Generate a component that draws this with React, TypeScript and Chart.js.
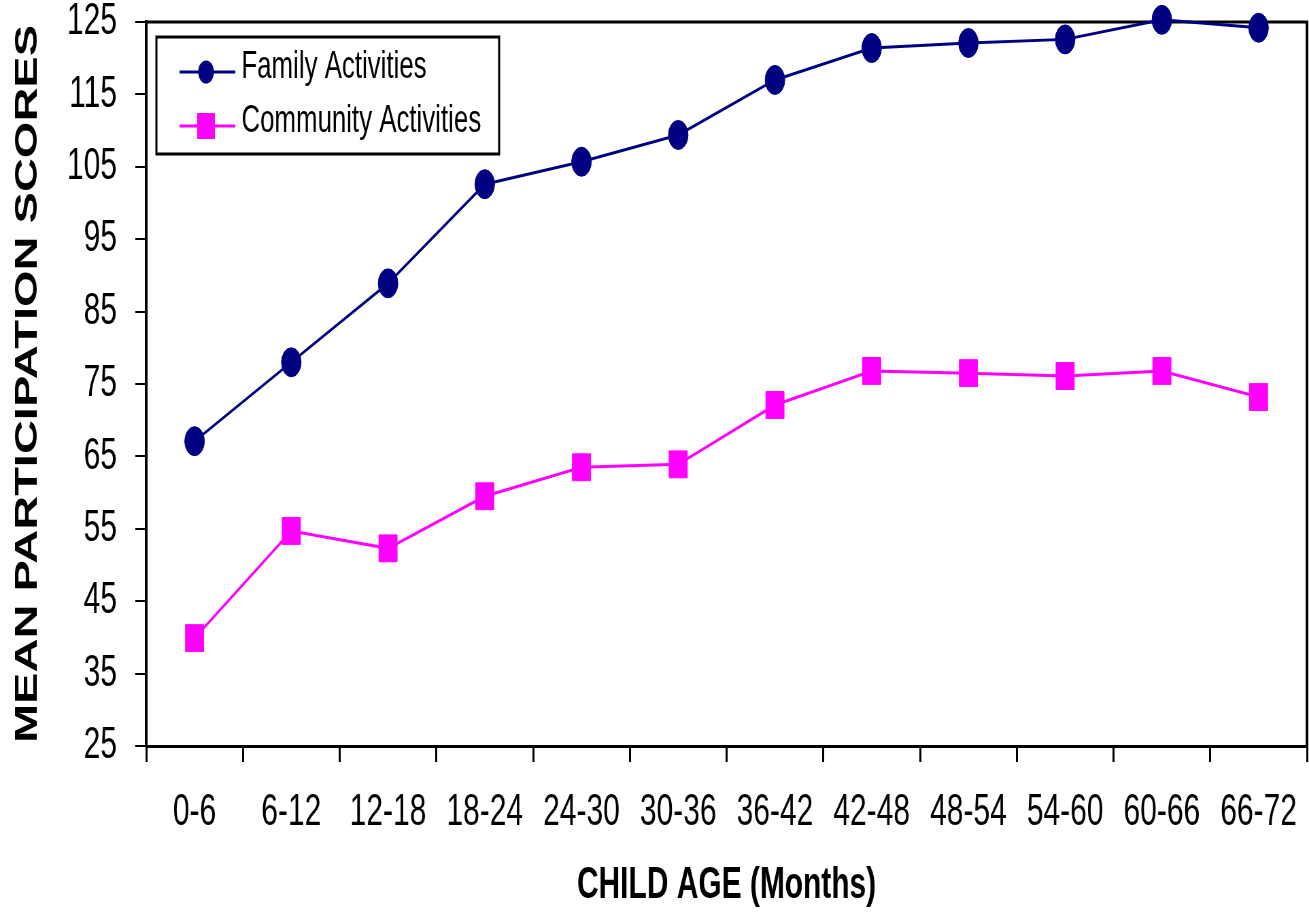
import React, { useEffect, useRef } from 'react';
import { Chart, registerables } from 'chart.js';

Chart.register(...registerables);

// ---- Data ----
const ageGroups = ['0-6', '6-12', '12-18', '18-24', '24-30', '30-36', '36-42', '42-48', '48-54', '54-60', '60-66', '66-72'];
const familyScores = [67.1, 78.0, 88.9, 102.6, 105.7, 109.4, 117.0, 121.4, 122.1, 122.6, 125.3, 124.2];
const communityScores = [39.9, 54.7, 52.3, 59.5, 63.5, 63.9, 72.1, 76.8, 76.5, 76.1, 76.8, 73.2];
const seriesNames = ['Family Activities', 'Community Activities'];
const yAxisMin = 25;
const yAxisMax = 125;
const yAxisStep = 10;
const xAxisTitle = 'CHILD AGE (Months)';
const yAxisTitle = 'MEAN PARTICIPATION SCORES';

// ---- Look ----
const DISPLAY_W = 1309;
const DISPLAY_H = 920;
const SQUEEZE = 0.68; // the reference chart is horizontally compressed
const CANVAS_W = Math.round(DISPLAY_W / SQUEEZE);
const FONT = '"Liberation Sans", Arial, Helvetica, sans-serif';
const NAVY = '#000080';
const MAGENTA = '#FF00FF';

const framePlugin = {
  id: 'plotFrame',
  beforeDatasetsDraw(chart: any) {
    const { ctx, chartArea: a } = chart;
    ctx.save();
    ctx.strokeStyle = '#000';
    ctx.lineWidth = 3;
    ctx.beginPath();
    ctx.moveTo(a.left, a.top);
    ctx.lineTo(a.right + 2, a.top);
    ctx.stroke();
    ctx.lineWidth = 4;
    ctx.beginPath();
    ctx.moveTo(a.right, a.top);
    ctx.lineTo(a.right, a.bottom);
    ctx.stroke();
    ctx.restore();
  },
};

const legendPlugin = {
  id: 'boxLegend',
  afterDraw(chart: any) {
    const { ctx } = chart;
    const bx = 230, by = 37, bw = 504, bh = 117;
    const rows = [72, 126];
    ctx.save();
    ctx.fillStyle = '#fff';
    ctx.fillRect(bx, by, bw, bh);
    ctx.strokeStyle = '#000';
    ctx.lineWidth = 3;
    ctx.strokeRect(bx, by, bw, bh);
    chart.data.datasets.forEach((ds: any, i: number) => {
      const y = rows[i];
      ctx.strokeStyle = ds.borderColor;
      ctx.fillStyle = ds.borderColor;
      ctx.lineWidth = 3;
      ctx.beginPath();
      ctx.moveTo(264, y);
      ctx.lineTo(346, y);
      ctx.stroke();
      if (ds.pointStyle === 'circle') {
        ctx.beginPath();
        ctx.arc(303, y, 11.5, 0, Math.PI * 2);
        ctx.fill();
      } else {
        ctx.fillRect(303 - 13, y - 13, 26, 26);
      }
      ctx.fillStyle = '#000';
      ctx.font = `38px ${FONT}`;
      ctx.textBaseline = 'middle';
      ctx.textAlign = 'left';
      ctx.fillText(ds.label, 355, y - 4);
    });
    ctx.restore();
  },
};

export default function App() {
  const ref = useRef<HTMLCanvasElement | null>(null);

  useEffect(() => {
    const canvas = ref.current;
    if (!canvas) return;
    const chart = new Chart(canvas, {
      type: 'line',
      data: {
        labels: ageGroups,
        datasets: [
          {
            label: seriesNames[0],
            data: familyScores,
            borderColor: NAVY,
            backgroundColor: NAVY,
            borderWidth: 3,
            pointStyle: 'circle',
            pointRadius: 14.5,
            pointBackgroundColor: NAVY,
            pointBorderColor: NAVY,
            pointBorderWidth: 1,
            tension: 0,
            clip: false,
          },
          {
            label: seriesNames[1],
            data: communityScores,
            borderColor: MAGENTA,
            backgroundColor: MAGENTA,
            borderWidth: 3,
            pointStyle: 'rect',
            pointRadius: 19,
            pointBackgroundColor: MAGENTA,
            pointBorderColor: MAGENTA,
            pointBorderWidth: 1,
            tension: 0,
            clip: false,
          },
        ],
      } as any,
      options: {
        responsive: false,
        animation: false,
        devicePixelRatio: 1,
        events: [],
        layout: { autoPadding: false, padding: { top: 22, right: 3, left: 0, bottom: 0 } },
        plugins: {
          legend: { display: false },
          tooltip: { enabled: false },
        },
        scales: {
          x: {
            type: 'category',
            offset: true,
            grid: {
              offset: true,
              drawOnChartArea: false,
              drawTicks: true,
              tickLength: 16,
              color: '#000',
              lineWidth: 3,
            },
            border: { display: true, color: '#000', width: 3 },
            ticks: {
              color: '#000',
              font: { family: FONT, size: 44, lineHeight: 2.32 },
              padding: 0,
              maxRotation: 0,
              autoSkip: false,
            },
            title: {
              display: true,
              text: xAxisTitle,
              color: '#000',
              font: { family: FONT, size: 44, weight: 'bold', lineHeight: 1.2 },
              padding: { top: 0, bottom: 8 },
            },
            afterFit: (s: any) => {
              s.height = 174;
              s.paddingLeft = 0;
              s.paddingRight = 0;
            },
          },
          y: {
            min: yAxisMin,
            max: yAxisMax,
            grid: {
              drawOnChartArea: false,
              drawTicks: true,
              tickLength: 16,
              color: '#000',
              lineWidth: 2,
            },
            border: { display: true, color: '#000', width: 4 },
            ticks: {
              stepSize: yAxisStep,
              color: '#000',
              font: { family: FONT, size: 44, lineHeight: 1 },
              padding: 27,
            },
            title: {
              display: true,
              text: yAxisTitle,
              color: '#000',
              font: { family: FONT, size: 47, weight: 'bold', lineHeight: 1.2 },
              padding: { top: 13, bottom: 0 },
            },
            afterFit: (s: any) => {
              s.width = 215;
              s.paddingTop = 0;
              s.paddingBottom = 0;
            },
          },
        },
      } as any,
      plugins: [framePlugin, legendPlugin],
    });
    return () => chart.destroy();
  }, []);

  return (
    <div style={{ position: 'fixed', left: 0, top: 0, width: DISPLAY_W, height: DISPLAY_H, background: '#fff' }}>
      <canvas
        ref={ref}
        width={CANVAS_W}
        height={DISPLAY_H}
        style={{ width: `${DISPLAY_W}px`, height: `${DISPLAY_H}px`, display: 'block' }}
      />
    </div>
  );
}
